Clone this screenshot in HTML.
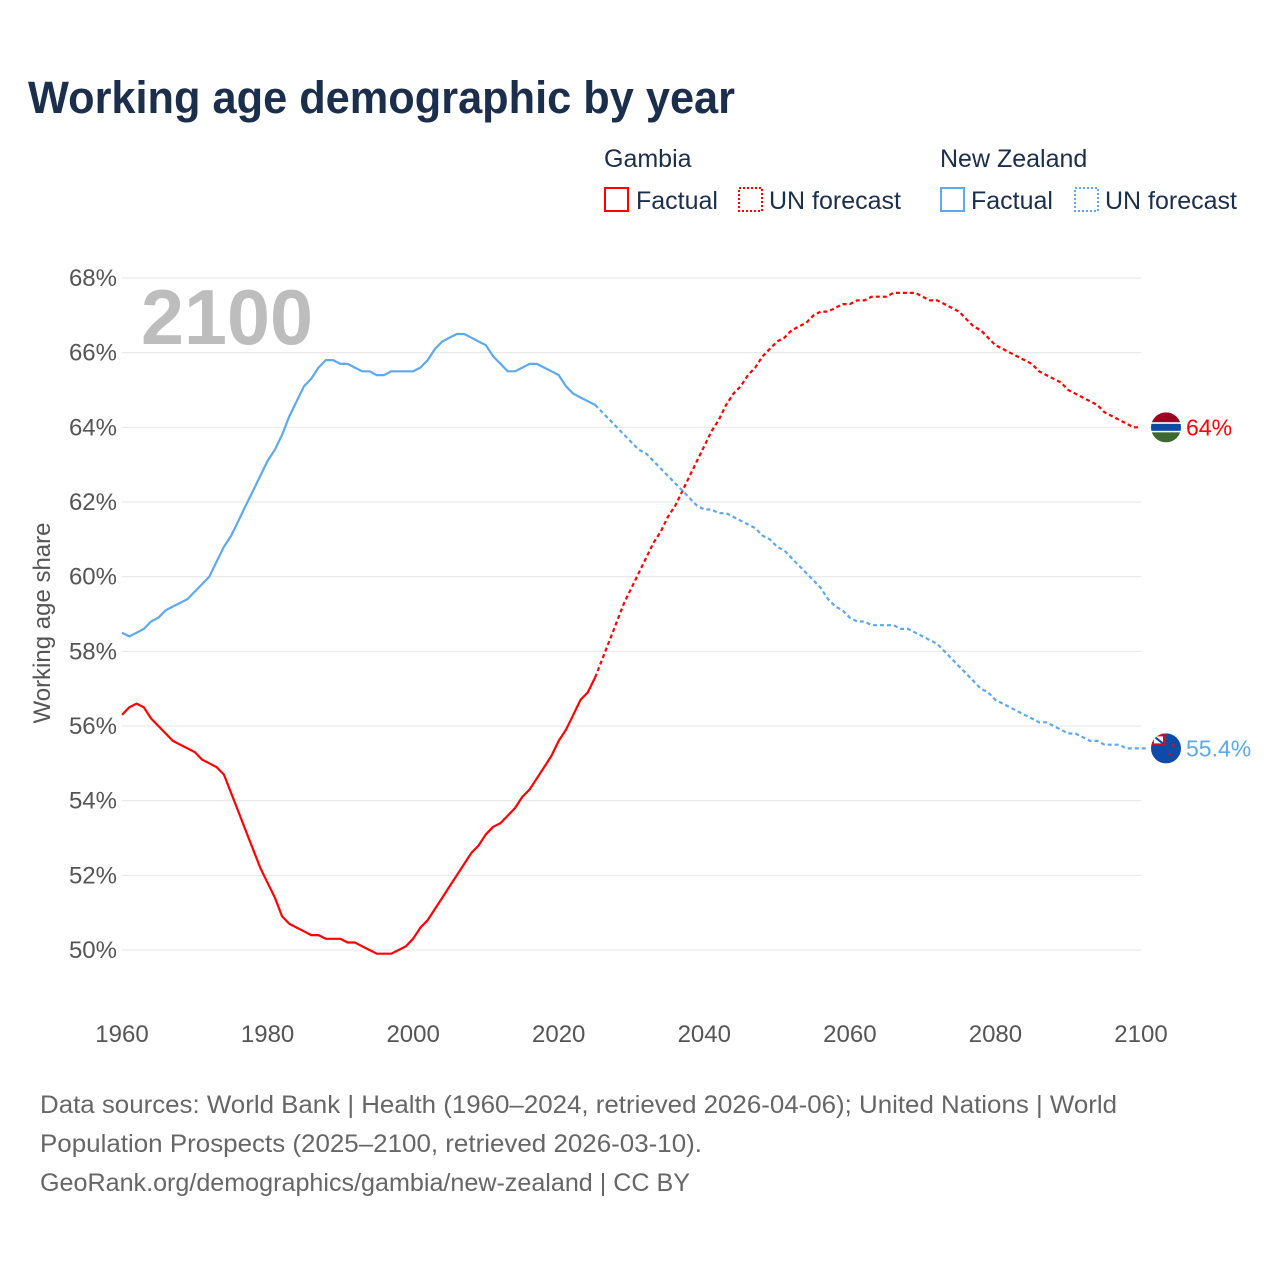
<!DOCTYPE html>
<html><head><meta charset="utf-8">
<style>
html,body{margin:0;padding:0;background:#fff;}
body{width:1280px;height:1280px;overflow:hidden;font-family:"Liberation Sans",sans-serif;}
svg text{font-family:"Liberation Sans",sans-serif;}
</style></head>
<body>
<svg id="chart" width="1280" height="1280" xmlns="http://www.w3.org/2000/svg">
  <text x="28" y="113" font-size="45" font-weight="bold" fill="#1b2e4b" textLength="707" lengthAdjust="spacingAndGlyphs">Working age demographic by year</text>
  <g font-size="25" fill="#1b2e4b">
    <text x="604" y="167">Gambia</text>
    <text x="940" y="167">New Zealand</text>
    <g>
      <rect x="605" y="188" width="23" height="23" fill="none" stroke="#ff0000" stroke-width="2"/>
      <text x="636" y="209">Factual</text></g>
    <g>
      <rect x="739" y="188" width="23" height="23" fill="none" stroke="#ff0000" stroke-width="2" stroke-dasharray="2,2"/>
      <text x="769" y="209">UN forecast</text></g>
    <g>
      <rect x="941" y="188" width="23" height="23" fill="none" stroke="#5ea8ec" stroke-width="2"/>
      <text x="971" y="209">Factual</text></g>
    <g>
      <rect x="1075" y="188" width="23" height="23" fill="none" stroke="#5ea8ec" stroke-width="2" stroke-dasharray="2,2"/>
      <text x="1105" y="209">UN forecast</text></g>
  </g>
  <g id="grid"></g>
  <g id="yticks"></g>
  <g id="xticks"></g>
  <text x="141" y="344" font-size="78" font-weight="bold" fill="#bdbdbd" textLength="172" lengthAdjust="spacingAndGlyphs">2100</text>
  <text transform="translate(50,623) rotate(-90)" text-anchor="middle" font-size="24" fill="#555">Working age share</text>
  <g id="series"></g>
  <g font-size="25" fill="#666">
    <text x="40" y="1113" textLength="1077" lengthAdjust="spacingAndGlyphs">Data sources: World Bank | Health (1960–2024, retrieved 2026-04-06); United Nations | World</text>
    <text x="40" y="1152" textLength="662" lengthAdjust="spacingAndGlyphs">Population Prospects (2025–2100, retrieved 2026-03-10).</text>
    <text x="40" y="1191" textLength="650" lengthAdjust="spacingAndGlyphs">GeoRank.org/demographics/gambia/new-zealand | CC BY</text>
  </g>
</svg>
<script>
const startYear = 1960;
const forecastYear = 2025;
const yTicks = [50,52,54,56,58,60,62,64,66,68];
const xTicks = [1960,1980,2000,2020,2040,2060,2080,2100];
const gambia = [56.3,56.5,56.6,56.5,56.2,56.0,55.8,55.6,55.5,55.4,55.3,55.1,55.0,54.9,54.7,54.2,53.7,53.2,52.7,52.2,51.8,51.4,50.9,50.7,50.6,50.5,50.4,50.4,50.3,50.3,50.3,50.2,50.2,50.1,50.0,49.9,49.9,49.9,50.0,50.1,50.3,50.6,50.8,51.1,51.4,51.7,52.0,52.3,52.6,52.8,53.1,53.3,53.4,53.6,53.8,54.1,54.3,54.6,54.9,55.2,55.6,55.9,56.3,56.7,56.9,57.3,57.8,58.3,58.8,59.3,59.7,60.1,60.5,60.9,61.2,61.6,61.9,62.3,62.7,63.1,63.5,63.9,64.2,64.6,64.9,65.1,65.4,65.6,65.9,66.1,66.3,66.4,66.6,66.7,66.8,67.0,67.1,67.1,67.2,67.3,67.3,67.4,67.4,67.5,67.5,67.5,67.6,67.6,67.6,67.6,67.5,67.4,67.4,67.3,67.2,67.1,66.9,66.7,66.6,66.4,66.2,66.1,66.0,65.9,65.8,65.7,65.5,65.4,65.3,65.2,65.0,64.9,64.8,64.7,64.6,64.4,64.3,64.2,64.1,64.0,64.0];
const newZealand = [58.5,58.4,58.5,58.6,58.8,58.9,59.1,59.2,59.3,59.4,59.6,59.8,60.0,60.4,60.8,61.1,61.5,61.9,62.3,62.7,63.1,63.4,63.8,64.3,64.7,65.1,65.3,65.6,65.8,65.8,65.7,65.7,65.6,65.5,65.5,65.4,65.4,65.5,65.5,65.5,65.5,65.6,65.8,66.1,66.3,66.4,66.5,66.5,66.4,66.3,66.2,65.9,65.7,65.5,65.5,65.6,65.7,65.7,65.6,65.5,65.4,65.1,64.9,64.8,64.7,64.6,64.4,64.2,64.0,63.8,63.6,63.4,63.3,63.1,62.9,62.7,62.5,62.3,62.1,61.9,61.8,61.8,61.7,61.7,61.6,61.5,61.4,61.3,61.1,61.0,60.8,60.7,60.5,60.3,60.1,59.9,59.7,59.4,59.2,59.1,58.9,58.8,58.8,58.7,58.7,58.7,58.7,58.6,58.6,58.5,58.4,58.3,58.2,58.0,57.8,57.6,57.4,57.2,57.0,56.9,56.7,56.6,56.5,56.4,56.3,56.2,56.1,56.1,56.0,55.9,55.8,55.8,55.7,55.6,55.6,55.5,55.5,55.5,55.4,55.4,55.4,55.4];

const NS = "http://www.w3.org/2000/svg";
const X0 = 122, X1 = 1141, Y50 = 950, Y68 = 278;
function xs(yr){ return X0 + (yr-1960)*(X1-X0)/140; }
function ys(v){ return Y50 - (v-50)*(Y50-Y68)/18; }
function mk(tag, attrs, parent){ const e=document.createElementNS(NS,tag); for(const k in attrs) e.setAttribute(k,attrs[k]); parent.appendChild(e); return e; }

const grid = document.getElementById('grid');
const yt = document.getElementById('yticks');
yTicks.forEach(v=>{
  const l = mk('line',{x1:X0,x2:X1,y1:ys(v),y2:ys(v),stroke:'#e6e6e6','stroke-width':1},grid);
  
  
  const t = mk('text',{x:117,y:ys(v)+8,'text-anchor':'end','font-size':24,fill:'#555'},yt);
  t.textContent = v+'%';
  
  
});
const xt = document.getElementById('xticks');
xTicks.forEach(yr=>{
  const t = mk('text',{x:xs(yr),y:1042,'text-anchor':'middle','font-size':24,fill:'#555'},xt);
  t.textContent = yr;
  
  
});

const sg = document.getElementById('series');
function pathFor(arr, from, to){
  let d='';
  for(let i=from;i<=to;i++){ d += (i===from?'M':'L') + xs(startYear+i).toFixed(1)+','+ys(arr[i]).toFixed(1); }
  return d;
}
function drawSeries(arr, color, name){
  const fi = forecastYear - startYear;
  const a = mk('path',{d:pathFor(arr,0,fi),fill:'none',stroke:color,'stroke-width':2.2,'stroke-linejoin':'round'},sg);
  
  
  const b = mk('path',{d:pathFor(arr,fi,arr.length-1),fill:'none',stroke:color,'stroke-width':2.2,'stroke-dasharray':'4,3'},sg);
  
  
}
drawSeries(gambia,'#ff0000','gambia');
drawSeries(newZealand,'#5ea8ec','new-zealand');

const gLast = gambia[gambia.length-1], nLast = newZealand[newZealand.length-1];
const cx = 1166;
const defs = mk('defs',{},sg);
const c1 = mk('clipPath',{id:'cg'},defs); mk('circle',{cx:cx,cy:ys(gLast),r:15},c1);
const c2 = mk('clipPath',{id:'cn'},defs); mk('circle',{cx:cx,cy:ys(nLast),r:15},c2);
const gf = mk('g',{'clip-path':'url(#cg)'},sg);


const gy = ys(gLast);
mk('rect',{x:cx-15,y:gy-15,width:30,height:10,fill:'#a00022'},gf);
mk('rect',{x:cx-15,y:gy-5,width:30,height:10,fill:'#ffffff'},gf);
mk('rect',{x:cx-15,y:gy-3.5,width:30,height:7,fill:'#0c4ca8'},gf);
mk('rect',{x:cx-15,y:gy+5,width:30,height:10,fill:'#3b6b32'},gf);
const nf = mk('g',{'clip-path':'url(#cn)'},sg);


const ny = ys(nLast);
mk('rect',{x:cx-15,y:ny-15,width:30,height:30,fill:'#0c4ca8'},nf);
mk('rect',{x:cx-15,y:ny-15,width:15,height:12,fill:'#c8102e'},nf);
mk('rect',{x:cx-12,y:ny-12,width:9,height:7,fill:'#ffffff'},nf);
mk('line',{x1:cx-12,y1:ny-12,x2:cx-3,y2:ny-5,stroke:'#0c4ca8','stroke-width':2},nf);
mk('circle',{cx:cx+7,cy:ny-3,r:1.5,fill:'#c8102e'},nf);
mk('circle',{cx:cx+4,cy:ny+6,r:1.5,fill:'#c8102e'},nf);
const gl = mk('text',{x:1186,y:gy+8,'font-size':23,fill:'#ff0000'},sg);
gl.textContent = gLast.toFixed(1).replace(/\.0$/,'')+'%';


const nl = mk('text',{x:1186,y:ny+8,'font-size':23,fill:'#5ea8ec'},sg);
nl.textContent = nLast.toFixed(1).replace(/\.0$/,'')+'%';


</script>
</body></html>
